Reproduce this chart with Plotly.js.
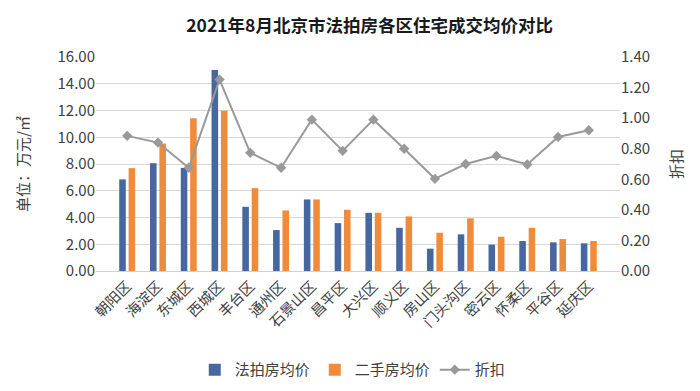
<!DOCTYPE html>
<html>
<head>
<meta charset="utf-8">
<script src="https://cdn.plot.ly/plotly-3.0.1.min.js"></script>
<style>html,body{margin:0;padding:0;background:#fff;}#chart{width:700px;height:391px;}</style>
</head>
<body>
<div id="chart"></div>
<script>
const districts = ["朝阳区","海淀区","东城区","西城区","丰台区","通州区","石景山区","昌平区","大兴区","顺义区","房山区","门头沟区","密云区","怀柔区","平谷区","延庆区"];
const auctionPrice = [6.85, 8.06, 7.71, 15.03, 4.80, 3.06, 5.35, 3.58, 4.35, 3.23, 1.67, 2.74, 1.97, 2.24, 2.14, 2.07];
const resalePrice = [7.69, 9.53, 11.42, 11.99, 6.20, 4.53, 5.35, 4.58, 4.35, 4.08, 2.86, 3.94, 2.56, 3.23, 2.39, 2.24];
const discount = [0.884, 0.84, 0.675, 1.252, 0.773, 0.675, 0.99, 0.786, 0.99, 0.80, 0.603, 0.70, 0.753, 0.697, 0.877, 0.921];
const leftTicks = [0,2,4,6,8,10,12,14,16];
const rightTicks = [0,0.2,0.4,0.6,0.8,1.0,1.2,1.4];

const cjk = '"Noto Sans CJK SC", "Noto Sans", sans-serif';
const data = [
  {type:'bar', name:'法拍房均价', x:districts, y:auctionPrice, marker:{color:'#4767A0'}},
  {type:'bar', name:'二手房均价', x:districts, y:resalePrice, marker:{color:'#F08B3B'}},
  {type:'scatter', mode:'lines+markers', name:'折扣', x:districts, y:discount, yaxis:'y2',
   line:{color:'#999999', width:2}, marker:{symbol:'diamond', size:8, color:'#999999'}}
];
const layout = {
  width:700, height:391,
  margin:{l:96, r:80, t:57, b:120},
  paper_bgcolor:'#fff', plot_bgcolor:'#fff',
  font:{family:cjk, color:'#404040', size:15},
  title:{text:'<b>2021年8月北京市法拍房各区住宅成交均价对比</b>', font:{family:cjk, size:17.5, color:'#1a1a1a'}, x:0.528, xanchor:'center', y:0.935, yanchor:'middle'},
  barmode:'group', bargap:0.39, bargroupgap:0.3,
  showlegend:true,
  legend:{orientation:'h', x:0.49, xanchor:'center', yref:'container', y:0.054, yanchor:'middle', font:{size:15, color:'#404040'}, traceorder:'normal'},
  xaxis:{type:'category', automargin:false, tickangle:-45, tickfont:{size:14.5, color:'#404040'}, showline:true, linecolor:'#D0D0D0', linewidth:1, ticks:'', showgrid:false},
  yaxis:{range:[0,16], automargin:false, tickvals:leftTicks, ticktext:leftTicks.map(v=>v.toFixed(2)), showgrid:true, gridcolor:'#D9D9D9', gridwidth:1, zeroline:false,
    tickfont:{size:15, color:'#404040'}, title:{text:'单位：万元/㎡', font:{size:15, color:'#404040'}, standoff:24}},
  yaxis2:{overlaying:'y', side:'right', automargin:false, range:[0,1.4], tickvals:rightTicks, ticktext:rightTicks.map(v=>v.toFixed(2)), showgrid:false, zeroline:false,
    tickfont:{size:15, color:'#404040'}, title:{text:'折扣', font:{size:15, color:'#404040'}, standoff:22}}
};
Plotly.newPlot('chart', data, layout, {displayModeBar:false, staticPlot:true});
</script>
</body>
</html>
